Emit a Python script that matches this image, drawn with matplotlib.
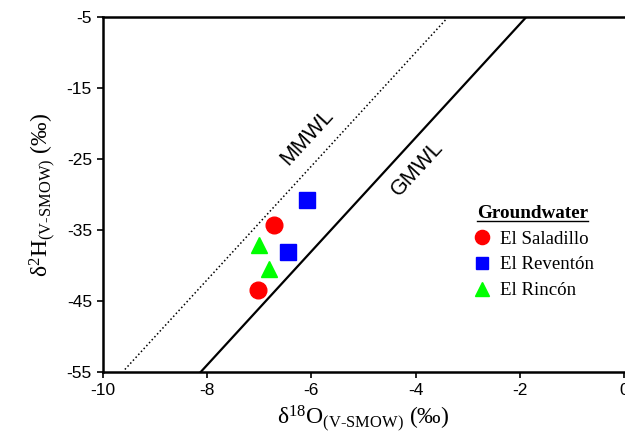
import matplotlib
matplotlib.use('Agg')
import matplotlib.pyplot as plt
from matplotlib.lines import Line2D

plt.rcParams['font.family'] = ['Liberation Sans', 'DejaVu Sans']
plt.rcParams['mathtext.fontset'] = 'custom'
plt.rcParams['mathtext.rm'] = 'Liberation Serif'
plt.rcParams['mathtext.it'] = 'Liberation Serif:italic'
plt.rcParams['axes.unicode_minus'] = False

# groundwater samples (d18O, d2H)
saladillo_o = [-6.71, -7.03]
saladillo_h = [-34.3, -43.5]
reventon_o = [-6.08, -6.45]
reventon_h = [-30.8, -38.1]
rincon_o = [-7.01, -6.82]
rincon_h = [-37.1, -40.5]

# meteoric water lines: dH = slope * dO + intercept
gmwl_slope, gmwl_icpt = 8.0, 10.0
mmwl_slope, mmwl_icpt = 8.0, 22.0
gmwl_x = [-8.125, -1.875]
mmwl_x = [-9.58, -3.42]

xticks = [-10, -8, -6, -4, -2, 0]
yticks = [-55, -45, -35, -25, -15, -5]

fig = plt.figure(figsize=(6.25, 4.48), dpi=100)
ax = fig.add_axes([0.1648, 0.1696, 0.8336, 0.7924])

ax.plot(gmwl_x, [gmwl_slope * x + gmwl_icpt for x in gmwl_x], color='black', lw=1.6)
ax.plot(mmwl_x, [mmwl_slope * x + mmwl_icpt for x in mmwl_x], color='black', lw=1.1,
        linestyle=(0, (1, 1.6)))

ax.plot(saladillo_o, saladillo_h, 'o', color='#ff0000', ms=12, ls='none', label='El Saladillo')
ax.plot(reventon_o, reventon_h, 's', color='#0000ff', ms=11, ls='none', label='El Reventón')
ax.plot(rincon_o, rincon_h, '^', color='#00ff00', ms=12, ls='none', label='El Rincón')

ax.text(-6.09, -21.9, 'MMWL', rotation=47.5, ha='center', va='center', fontsize=15.5,
        rotation_mode='anchor')
ax.text(-3.97, -26.3, 'GMWL', rotation=47.5, ha='center', va='center', fontsize=15.5,
        rotation_mode='anchor')

ax.set_xlim(-10, 0)
ax.set_ylim(-55, -5)
ax.set_xticks(xticks)
ax.set_yticks(yticks)
ax.tick_params(labelsize=12.5, length=4.5, width=1.2, direction='out')
for s in ['left', 'top', 'bottom']:
    ax.spines[s].set_linewidth(1.8)
ax.spines['right'].set_visible(False)

ax.set_xlabel('δ$^{18}$O$_{\\mathrm{(V\\text{-}SMOW)}}$ (‰)', fontsize=17,
              family=['Liberation Serif', 'DejaVu Serif'], labelpad=4)
ax.set_ylabel('δ$^{2}$H$_{\\mathrm{(V\\text{-}SMOW)}}$ (‰)', fontsize=17,
              family=['Liberation Serif', 'DejaVu Serif'], labelpad=6)

leg = ax.legend(loc='upper left', bbox_to_anchor=(0.688, 0.497), frameon=False,
                title='Groundwater', borderpad=0, handletextpad=0.35, labelspacing=0.45,
                handlelength=1.2, markerscale=0.85,
                prop={'family': 'Liberation Serif', 'size': 13.6})
leg.get_title().set_fontweight('bold')
leg.get_title().set_fontsize(13.8)
leg.get_title().set_family('Liberation Serif')
leg._legend_box.align = 'center'

fig.canvas.draw()
bb = leg.get_title().get_window_extent().transformed(fig.transFigure.inverted())
uy = bb.y0 + 1.0 / 448
fig.add_artist(Line2D([bb.x0, bb.x1], [uy, uy], color='black', lw=1.0,
                      transform=fig.transFigure))

fig.savefig('out.png', dpi=100)
